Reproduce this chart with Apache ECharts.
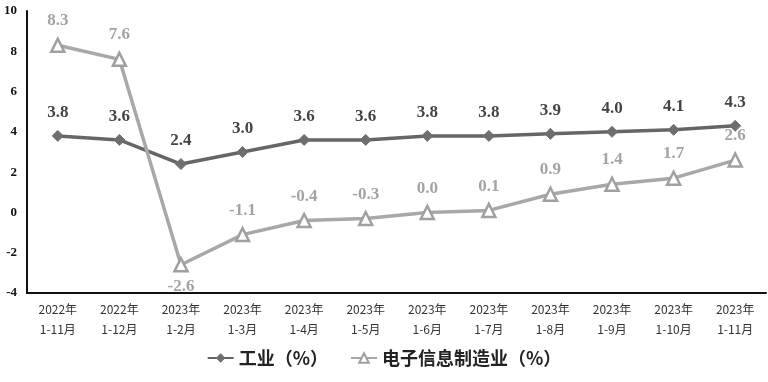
<!DOCTYPE html>
<html><head><meta charset="utf-8">
<script src="https://cdn.jsdelivr.net/npm/echarts@6/dist/echarts.min.js"></script>
<style>html,body{margin:0;padding:0;background:#fff}#c{width:768px;height:382px}</style>
</head><body><div id="c"></div>
<script>
var categories = ['2022年\n1-11月','2022年\n1-12月','2023年\n1-2月','2023年\n1-3月','2023年\n1-4月','2023年\n1-5月','2023年\n1-6月','2023年\n1-7月','2023年\n1-8月','2023年\n1-9月','2023年\n1-10月','2023年\n1-11月'];
var industry = [3.8,3.6,2.4,3.0,3.6,3.6,3.8,3.8,3.9,4.0,4.1,4.3];
var electronics = [8.3,7.6,-2.6,-1.1,-0.4,-0.3,0.0,0.1,0.9,1.4,1.7,2.6];
var seriesNames = ['工业（%）','电子信息制造业（%）'];

var chart = echarts.init(document.getElementById('c'));
var serif = '"Liberation Serif","DejaVu Serif",serif';
var elecData = electronics.map(function(v,i){
  return i===2 ? {value:v,label:{position:'bottom',distance:6}} : v;
});
chart.setOption({
  animation:false,
  grid:{left:27,right:2,top:11,bottom:89},
  legend:{
    bottom:10,left:'center',itemGap:22,itemWidth:26,itemHeight:12,
    textStyle:{fontSize:18,fontWeight:'bold',color:'#222',fontFamily:'"Noto Sans CJK SC",sans-serif'},
    data:[{name:seriesNames[0]},{name:seriesNames[1]}]
  },
  xAxis:{
    type:'category',data:categories,boundaryGap:true,
    axisLine:{onZero:false,lineStyle:{color:'#111',width:2}},
    axisTick:{show:false},
    axisLabel:{fontSize:12,color:'#333',lineHeight:20,margin:6,fontFamily:'"Noto Sans CJK SC",sans-serif',interval:0}
  },
  yAxis:{
    type:'value',min:-4,max:10,interval:2,
    splitLine:{show:false},
    axisLine:{show:true,lineStyle:{color:'#111',width:2}},
    axisTick:{show:false},
    axisLabel:{fontSize:13,fontWeight:'bold',color:'#111',fontFamily:serif,margin:10}
  },
  series:[
    {name:seriesNames[0],type:'line',data:industry,
     symbol:'diamond',symbolSize:11,
     lineStyle:{color:'#666',width:3.5},
     itemStyle:{color:'#6e6e6e',borderColor:'#6e6e6e'},
     label:{show:true,position:'top',distance:9,fontSize:17,fontWeight:'bold',color:'#444',fontFamily:serif,
       formatter:function(p){return p.value.toFixed(1);}}
    },
    {name:seriesNames[1],type:'line',data:elecData,
     symbol:'triangle',symbolSize:13,
     lineStyle:{color:'#a8a8a8',width:3.5},
     itemStyle:{color:'#fff',borderColor:'#a0a0a0',borderWidth:2.5},
     label:{show:true,position:'top',distance:8,fontSize:17,fontWeight:'bold',color:'#a3a3a3',fontFamily:serif,
       formatter:function(p){return p.value.toFixed(1);}}
    }
  ]
});
</script></body></html>
